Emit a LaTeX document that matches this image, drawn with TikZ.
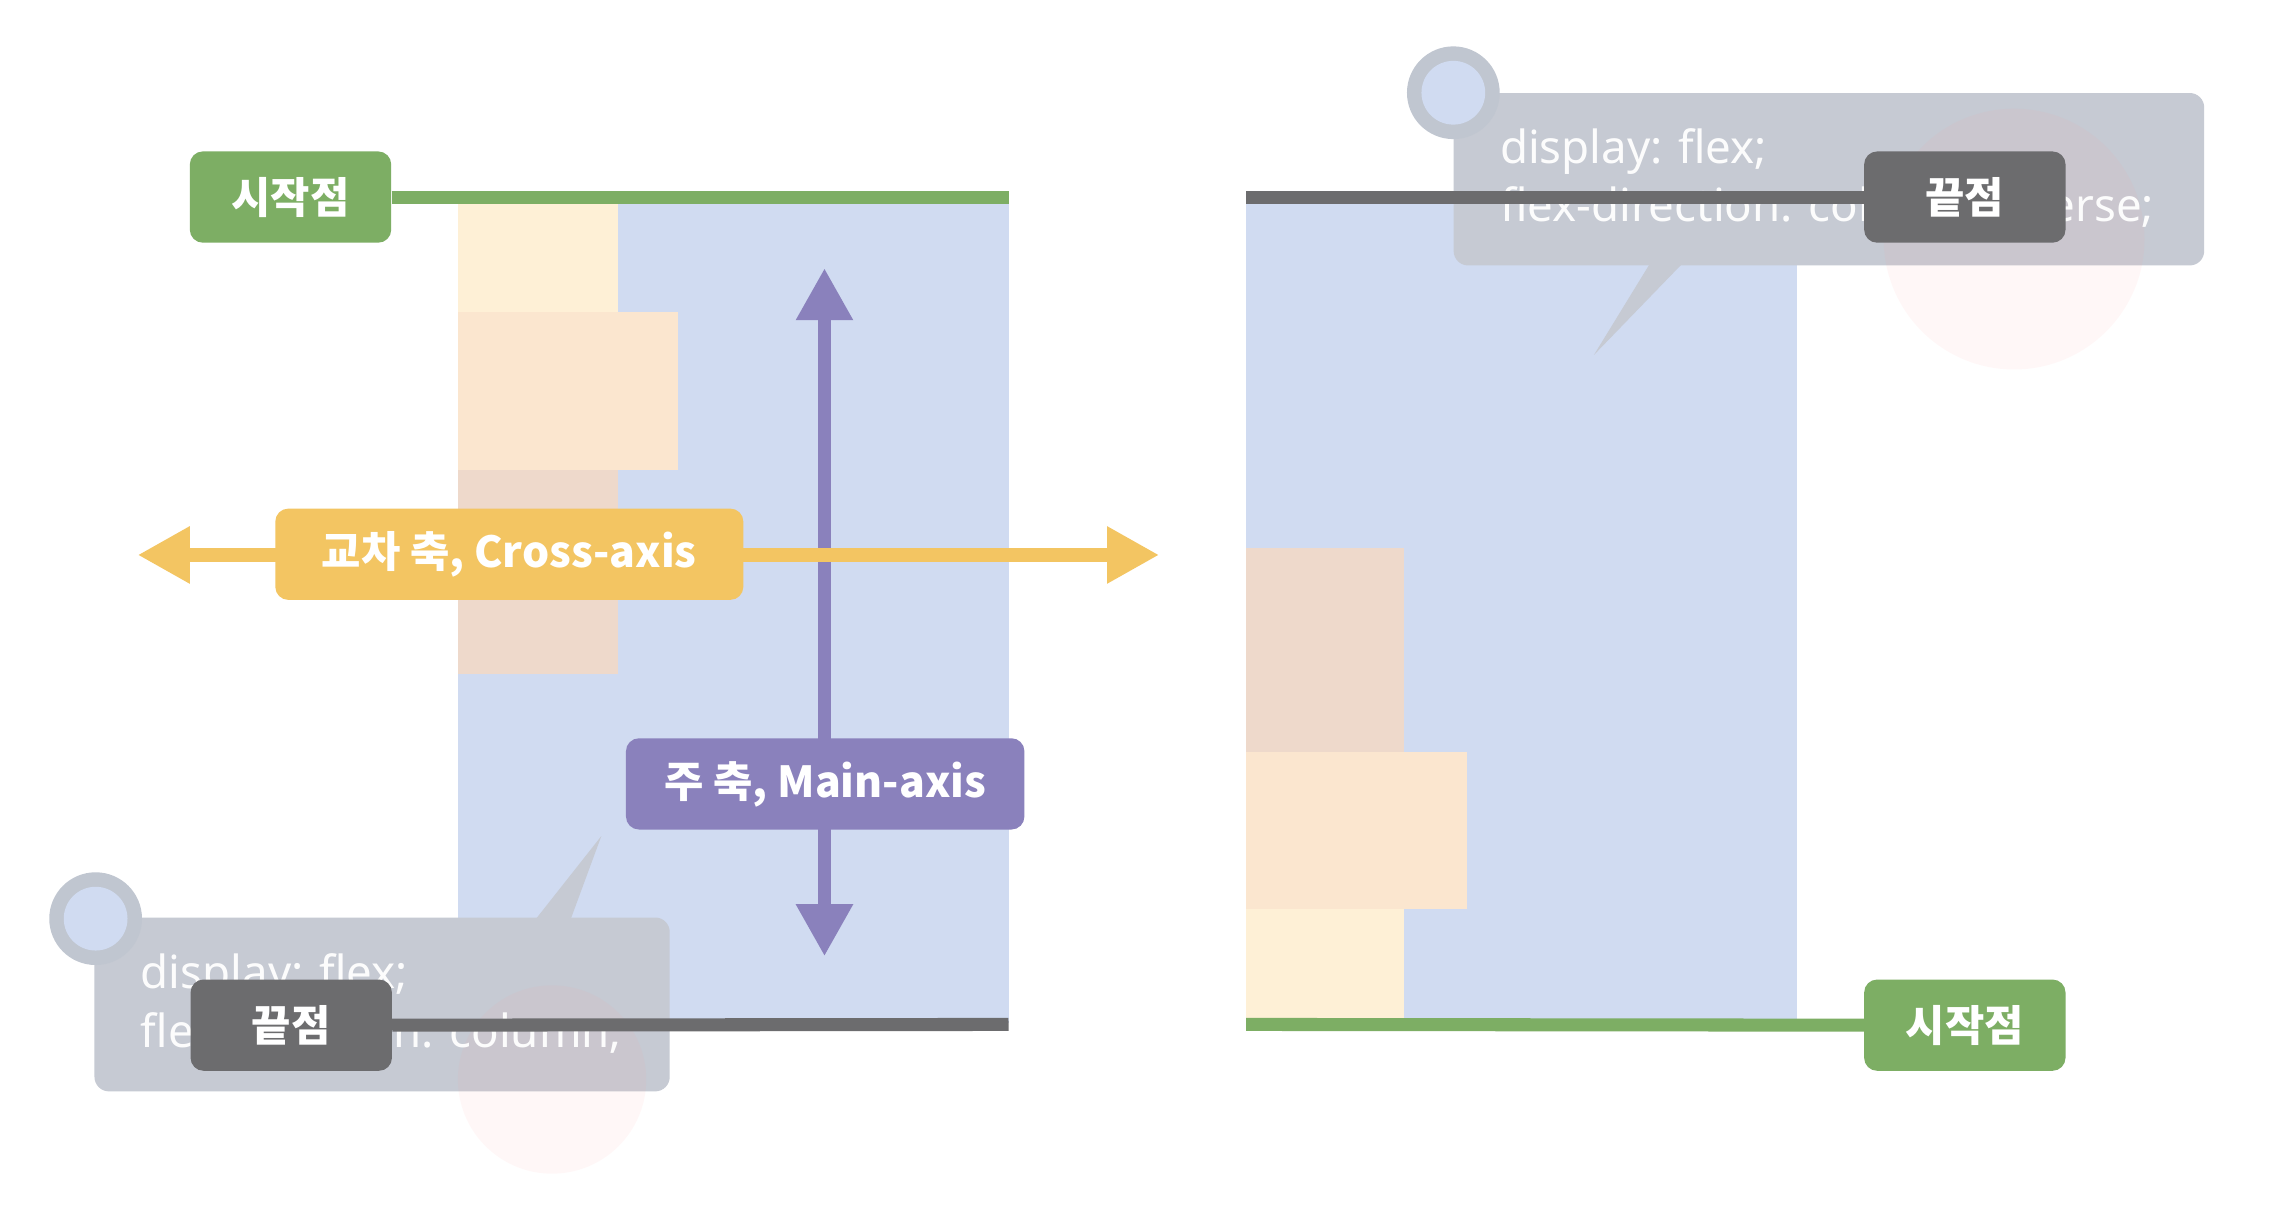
\documentclass[tikz,border=0pt]{standalone}
\usepackage{fontspec}
\setmainfont{Noto Sans CJK KR}
\newfontfamily\codefont{Noto Sans}
\usetikzlibrary{positioning,arrows.meta}

\definecolor{flexblue}{HTML}{D0DBF1}
\definecolor{startgreen}{HTML}{7DAE64}
\definecolor{enddark}{HTML}{6C6C6E}
\definecolor{mainpurple}{HTML}{8A81BC}
\definecolor{crossyellow}{HTML}{F3C562}
\definecolor{itemlight}{HTML}{FEF0D6}
\definecolor{itempeach}{HTML}{FBE6CF}
\definecolor{itemrose}{HTML}{EED9CB}
\definecolor{tipgray}{HTML}{C6CAD3}
\definecolor{tipring}{HTML}{C0C6D0}

\begin{document}
\begin{tikzpicture}[x=1pt, y=-1pt,
    container/.style={fill=flexblue, inner sep=0pt, minimum width=380pt, minimum height=566pt, anchor=north west},
    flexitem/.style={inner sep=0pt, anchor=north west},
    tag/.style={rounded corners=9pt, text=white, inner sep=0pt, minimum height=63pt, font=\bfseries\fontsize{29.5}{30}\selectfont},
    starttag/.style={tag, fill=startgreen, minimum width=139pt},
    endtag/.style={tag, fill=enddark, minimum width=139pt},
    startline/.style={draw=startgreen, line width=9pt},
    endline/.style={draw=enddark, line width=9pt},
    axisarrow/.style={line width=9.5pt, {Triangle[length=36pt, width=37pt]}-{Triangle[length=36pt, width=37pt]}},
    tipbox/.style={fill=tipgray, rounded corners=10pt, inner sep=0pt, anchor=north west},
    tipknob/.style={circle, fill=tipring, inner sep=0pt, minimum size=64pt},
    tiptext/.style={text=white, text opacity=0.95, anchor=base west, inner sep=0pt, font=\codefont\fontsize{31.5}{32}\selectfont},
    glow/.style={fill=red!40, fill opacity=0.07}
]
    \useasboundingbox (0,0) rectangle (1568,834);
    \fill[white] (0,0) rectangle (1568,834);

    % Containers
    \node[container] (box1) at (316,140) {};
    \node[container] (box2) at (860,140) {};

    % Flex items, column (left) and column-reverse (right)
    \foreach \x/\y/\w/\h/\c [count=\i] in {316/140/110/75/itemlight, 316/215/152/109/itempeach, 316/324/110/141/itemrose,
                                           860/627/109/79/itemlight, 860/519/152/108/itempeach, 860/378/109/141/itemrose} {
        \node[flexitem, fill=\c, minimum width=\w pt, minimum height=\h pt] (item\i) at (\x,\y) {};
    }

    % --- Left: column ---
    \node[starttag] (start1) at (200.5,136) {시작점};
    \coordinate (top1) at (696,136);
    \draw[startline] (start1.east) -- (top1);

    \coordinate (mainT) at (569,185);
    \coordinate (mainB) at (569,660);
    \draw[axisarrow, mainpurple] (mainT) -- (mainB);

    \coordinate (crossL) at (95,383);
    \coordinate (crossR) at (800,383);
    \draw[axisarrow, crossyellow] (crossL) -- (crossR);

    \node[tag, fill=crossyellow, minimum width=323pt] (crosslbl) at (351.5,382.5) {교차 축, Cross-axis};
    \node[tag, fill=mainpurple, minimum width=275pt] (mainlbl) at (569.5,541) {주 축, Main-axis};

    % Tooltip, bottom left
    \fill[tipgray] (370,634) -- (394,634) -- (415,577) -- cycle;
    \node[tipbox, minimum width=397pt, minimum height=120pt] (tip1) at (65,633) {};
    \node[tipknob] (knob1) at (66,634) {};
    \fill[flexblue] (knob1) circle (22);
    \fill[glow] (381,745) circle (65);
    \node[tiptext] (code1a) at (97,682) {display: flex;};
    \node[tiptext] (code1b) at (97,723) {flex-direction: column;};

    \node[endtag] (end1) at (201,707.5) {끝점};
    \coordinate (bot1) at (696,707);
    \draw[endline] (end1.east) -- (bot1);

    % --- Right: column-reverse ---
    \node[starttag] (start2) at (1356,707.5) {시작점};
    \coordinate (bot2) at (860,707);
    \draw[startline] (bot2) -- (start2.west);

    % Tooltip, top right
    \fill[tipgray] (1138,183) -- (1160,183) -- (1100,245) -- cycle;
    \node[tipbox, minimum width=518pt, minimum height=119pt] (tip2) at (1003,64) {};
    \node[tipknob] (knob2) at (1003,64) {};
    \fill[flexblue] (knob2) circle (22);
    \fill[glow] (1390,165) circle (90);
    \node[tiptext] (code2a) at (1035,113) {display: flex;};
    \node[tiptext] (code2b) at (1035,153) {flex-direction: column-reverse;};

    \node[endtag] (end2) at (1356,136) {끝점};
    \coordinate (top2) at (860,136);
    \draw[endline] (top2) -- (end2.west);

\end{tikzpicture}
\end{document}
